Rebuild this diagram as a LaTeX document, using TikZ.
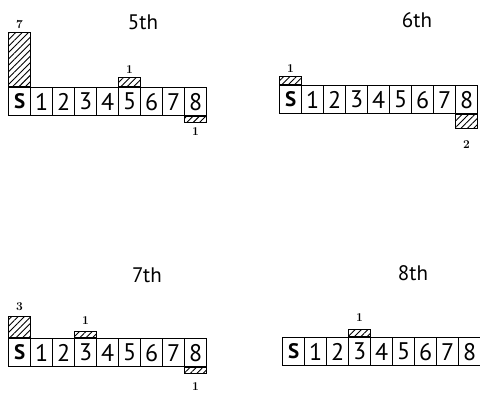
\documentclass[tikz,border=0pt]{standalone}
\usepackage{fontspec}
\setsansfont{PT Sans}
\usetikzlibrary{patterns.meta,positioning}
\tikzset{
  cell/.style={
    draw,
    line width=1.2pt,
    minimum width=22pt,
    minimum height=28pt,
    inner sep=0pt,
    anchor=north west,
    font=\sffamily\fontsize{24}{24}\selectfont
  },
  startcell/.style={
    cell,
    font=\sffamily\bfseries\fontsize{21}{21}\selectfont
  },
  overflow/.style={
    draw,
    line width=1.2pt,
    pattern={Lines[angle=45,distance=4.5pt,line width=0.9pt]},
    minimum width=22pt,
    inner sep=0pt
  },
  tally/.style={
    inner sep=0pt,
    font=\bfseries\fontsize{12}{12}\selectfont
  },
  heading/.style={
    font=\sffamily\fontsize{21}{21}\selectfont
  }
}

\begin{document}
\begin{tikzpicture}[x=1pt,y=-1pt]
  \useasboundingbox (0,0) rectangle (480,392);

  % 5th
  \node[heading] (h5) at (143,22) {5th};
  \node[startcell] (a0) at (8,87) {S};
  \foreach \i in {1,...,8}
    \node[cell] (a\i) at ({8+22*\i},87) {\i};
  \node[overflow, minimum height=54pt, anchor=south] (a0up) at (a0.north) {};
  \node[tally, above=3pt of a0up] (a0n) {7};
  \node[overflow, minimum height=9pt, anchor=south] (a5up) at (a5.north) {};
  \node[tally, above=3pt of a5up] (a5n) {1};
  \node[overflow, minimum height=6pt, anchor=north] (a8dn) at (a8.south) {};
  \node[tally, below=4pt of a8dn] (a8n) {1};

  % 6th
  \node[heading] (h6) at (417,20) {6th};
  \node[startcell] (b0) at (279,85) {S};
  \foreach \i in {1,...,8}
    \node[cell] (b\i) at ({279+22*\i},85) {\i};
  \node[overflow, minimum height=8pt, anchor=south] (b0up) at (b0.north) {};
  \node[tally, above=3pt of b0up] (b0n) {1};
  \node[overflow, minimum height=14pt, anchor=north] (b8dn) at (b8.south) {};
  \node[tally, below=11pt of b8dn] (b8n) {2};

  % 7th
  \node[heading] (h7) at (147,275) {7th};
  \node[startcell] (c0) at (8,338) {S};
  \foreach \i in {1,...,8}
    \node[cell] (c\i) at ({8+22*\i},338) {\i};
  \node[overflow, minimum height=21pt, anchor=south] (c0up) at (c0.north) {};
  \node[tally, above=5pt of c0up] (c0n) {3};
  \node[overflow, minimum height=6pt, anchor=south] (c3up) at (c3.north) {};
  \node[tally, above=6pt of c3up] (c3n) {1};
  \node[overflow, minimum height=6pt, anchor=north] (c8dn) at (c8.south) {};
  \node[tally, below=8pt of c8dn] (c8n) {1};

  % 8th
  \node[heading] (h8) at (413,273) {8th};
  \node[startcell] (d0) at (282,337) {S};
  \foreach \i in {1,...,8}
    \node[cell] (d\i) at ({282+22*\i},337) {\i};
  \node[overflow, minimum height=7pt, anchor=south] (d3up) at (d3.north) {};
  \node[tally, above=7pt of d3up] (d3n) {1};
\end{tikzpicture}
\end{document}
